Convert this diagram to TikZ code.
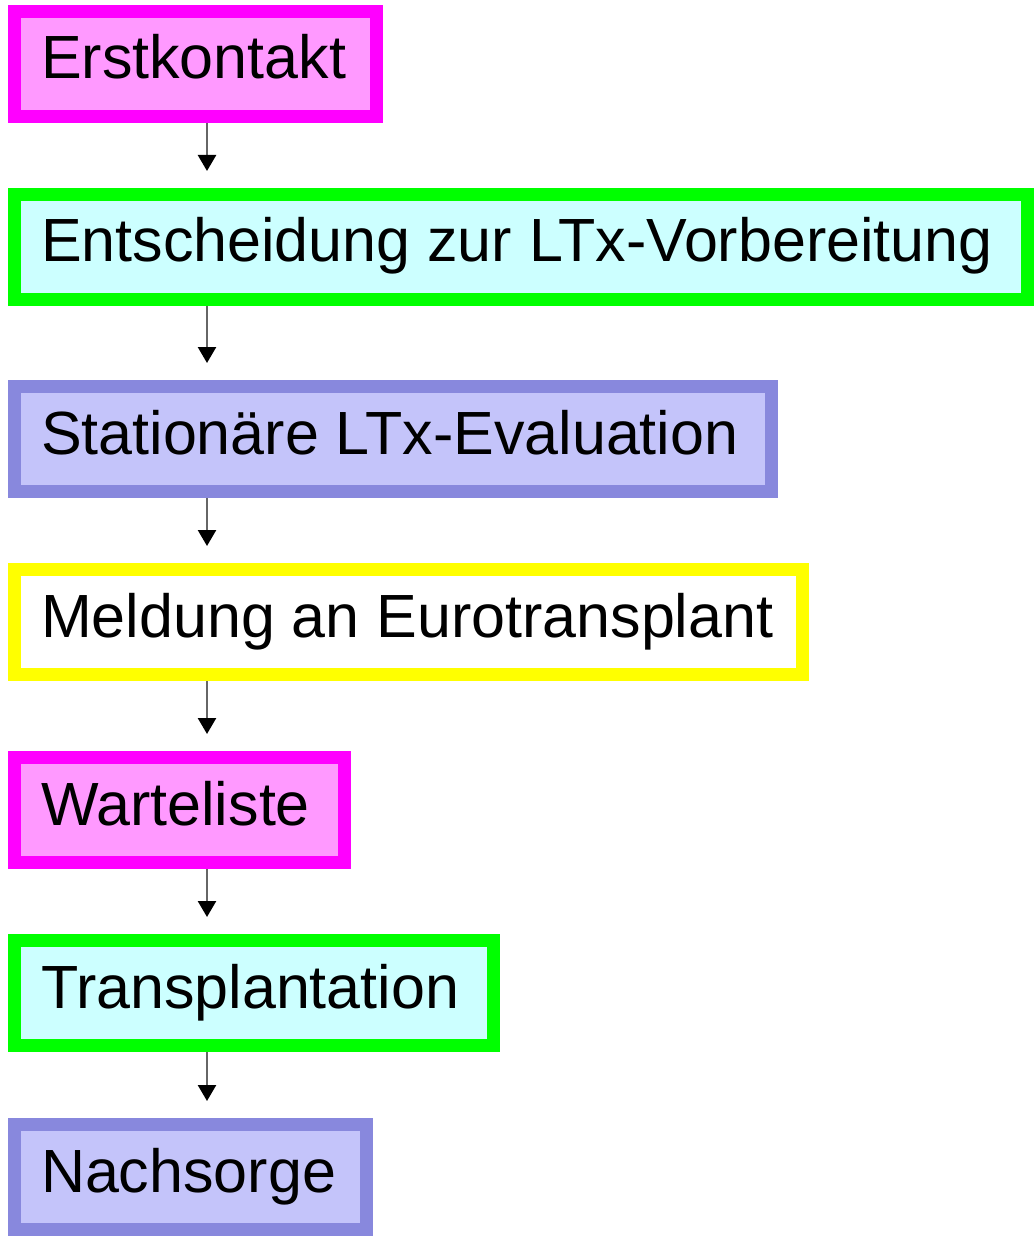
\documentclass[tikz,border=0pt]{standalone}
\usepackage{fontspec}
\setmainfont{Liberation Sans}
\usetikzlibrary{arrows.meta}
\definecolor{pinkfill}{HTML}{FF99FF}
\definecolor{pinkline}{HTML}{FF00FF}
\definecolor{cyanfill}{HTML}{CCFFFF}
\definecolor{greenline}{HTML}{00FF00}
\definecolor{lavfill}{HTML}{C4C4FA}
\definecolor{lavline}{HTML}{8888DD}
\definecolor{yellowline}{HTML}{FFFF00}
\newcommand{\boxtext}[2]{\makebox[#1pt][l]{#2}}
\begin{document}
\begin{tikzpicture}[x=1pt,y=-1pt,
  stage/.style={rectangle, line width=13pt, anchor=north west,
    inner xsep=26.5pt, inner ysep=0pt, outer sep=6.5pt,
    minimum height=105pt, text height=44pt, text depth=14pt,
    font=\fontsize{61pt}{73pt}\selectfont},
  pinkbox/.style={stage, fill=pinkfill, draw=pinkline},
  cyanbox/.style={stage, fill=cyanfill, draw=greenline},
  lavbox/.style={stage, fill=lavfill, draw=lavline},
  yelbox/.style={stage, fill=white, draw=yellowline},
  flow/.style={draw=black!60, line width=2.5pt, shorten >=17pt,
    -{Triangle[width=18pt,length=16pt,black]}}]
\useasboundingbox (0,0) rectangle (1034,1246);
\coordinate (axis) at (207,0);
\node[pinkbox] (e1) at (8,5) {\boxtext{309}{Erstkontakt}};
\node[cyanbox] (e2) at (8,188) {\boxtext{960}{Entscheidung zur LTx-Vorbereitung}};
\node[lavbox] (e3) at (8,380) {\boxtext{704}{Stationäre LTx-Evaluation}};
\node[yelbox] (e4) at (8,563) {\boxtext{735}{Meldung an Eurotransplant}};
\node[pinkbox] (e5) at (8,751) {\boxtext{277}{Warteliste}};
\node[cyanbox] (e6) at (8,934) {\boxtext{426}{Transplantation}};
\node[lavbox] (e7) at (8,1118) {\boxtext{299}{Nachsorge}};
\draw[flow] (e1.south west -| axis) -- (e2.north west -| axis);
\draw[flow] (e2.south west -| axis) -- (e3.north west -| axis);
\draw[flow] (e3.south west -| axis) -- (e4.north west -| axis);
\draw[flow] (e4.south west -| axis) -- (e5.north west -| axis);
\draw[flow] (e5.south west -| axis) -- (e6.north west -| axis);
\draw[flow] (e6.south west -| axis) -- (e7.north west -| axis);
\end{tikzpicture}
\end{document}
